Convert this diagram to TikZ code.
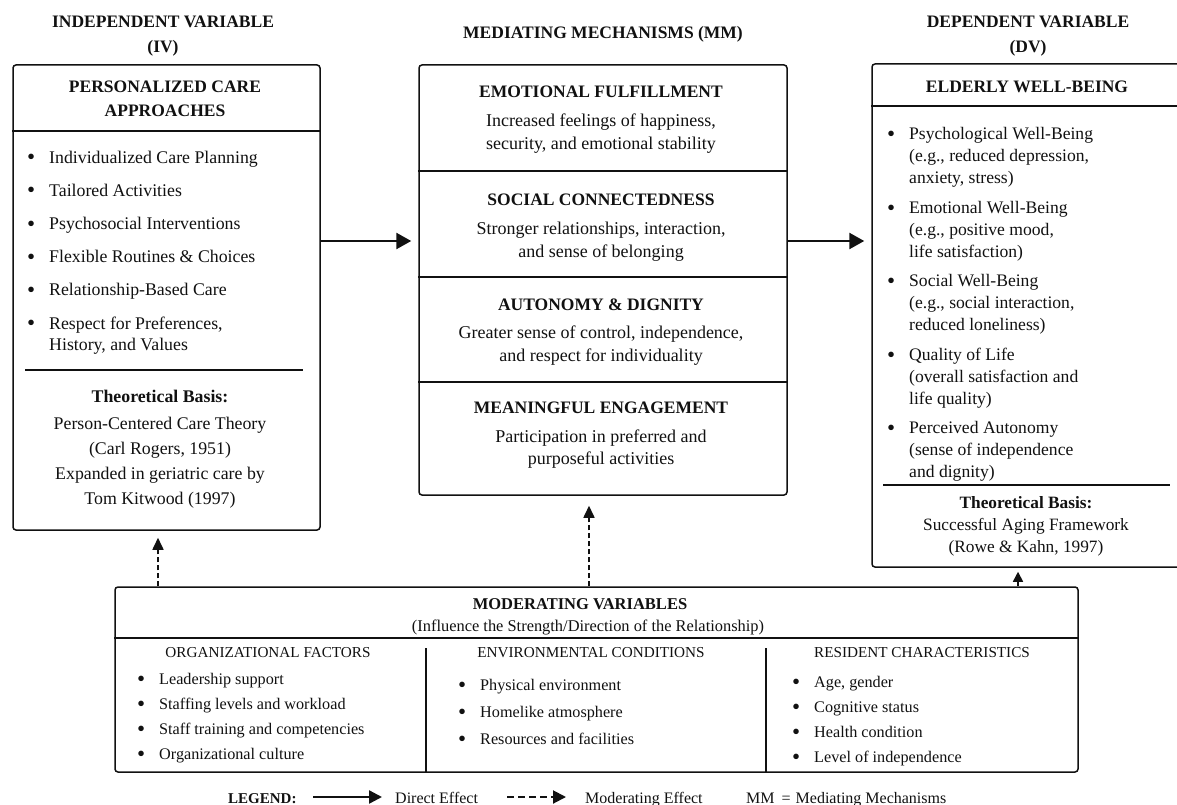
\documentclass[tikz,border=0pt]{standalone}
\usepackage{fontspec}
\setmainfont{Liberation Serif}
\usetikzlibrary{arrows.meta}
\definecolor{ink}{HTML}{111111}
\newcommand\bul[1][22pt]{\llap{\makebox[#1][l]{\raisebox{-1.6pt}{\fontsize{23}{0}\selectfont\textbullet}}}}
\begin{document}
\begin{tikzpicture}[x=1pt,y=-1pt,
  box/.style={draw=ink, line width=1.5pt, rounded corners=3pt, inner sep=0pt},
  sepline/.style={draw=ink, line width=1.3pt},
  ttl/.style={inner sep=0pt, anchor=north, align=center, text=ink, font=\bfseries\fontsize{17.5}{25}\selectfont},
  hd/.style={inner sep=0pt, anchor=north, align=center, text=ink, font=\bfseries\fontsize{17.5}{24}\selectfont},
  lst/.style={inner sep=0pt, anchor=north west, align=left, text=ink},
  ctr/.style={inner sep=0pt, anchor=north, align=center, text=ink},
  direct/.style={draw=ink, line width=2.6pt, -{Triangle[length=15pt,width=16pt]}},
  modarr/.style={draw=ink, line width=1.6pt, dash pattern=on 5pt off 3pt, -{Triangle[length=12pt,width=11pt]}},
  upsolid/.style={draw=ink, line width=1.6pt, -{Triangle[length=10pt,width=10pt]}},
  legsolid/.style={draw=ink, line width=2.4pt, -{Triangle[length=13pt,width=13pt]}},
  legdash/.style={draw=ink, line width=2pt, dash pattern=on 7pt off 4pt, -{Triangle[length=13pt,width=13pt]}},
  leg/.style={inner sep=0pt, anchor=base west, text=ink, font=\fontsize{16}{18}\selectfont}
]
\useasboundingbox (0,0) rectangle (1177,805);
\fill[white] (0,0) rectangle (1177,805);
\clip (0,0) rectangle (1177,805);

% ---- column titles
\node[ttl] (ivt) at (163,16) {INDEPENDENT VARIABLE\\(IV)};
\node[ttl] (mmt) at (603,26.5) {MEDIATING MECHANISMS (MM)};
\node[ttl] (dvt) at (1028,16) {DEPENDENT VARIABLE\\(DV)};

% ---- boxes
\node[box, minimum width=307pt, minimum height=465pt] (iv) at (166.5,297.5) {};
\node[box, minimum width=368pt, minimum height=430pt] (mm) at (603,280) {};
\node[box, minimum width=310pt, minimum height=503pt] (dv) at (1027,315.5) {};
\node[box, minimum width=963pt, minimum height=185pt] (mod) at (596.5,679.5) {};

% ---- inner separators
\draw[sepline] (iv.west |- 0,131) -- (iv.east |- 0,131);
\draw[sepline] (25,370) -- (303,370);
\foreach \yy in {171,277,382} \draw[sepline] (mm.west |- 0,\yy) -- (mm.east |- 0,\yy);
\draw[sepline] (dv.west |- 0,106) -- (dv.east |- 0,106);
\draw[sepline] (883,485) -- (1170,485);
\draw[sepline] (mod.west |- 0,638) -- (mod.east |- 0,638);
\draw[sepline] (426,648) -- (mod.south -| 426,0);
\draw[sepline] (766,648) -- (mod.south -| 766,0);

% ---- IV box content
\node[hd] (ivh) at (165,81) {PERSONALIZED CARE\\APPROACHES};
\node[lst, font=\fontsize{17.8}{21}\selectfont] (ivl) at (49,150.5)
 {\bul Individualized Care Planning\\[12.2pt]\bul Tailored Activities\\[12.2pt]\bul Psychosocial Interventions\\[12.2pt]\bul Flexible Routines \& Choices\\[12.2pt]\bul Relationship-Based Care\\[12.2pt]\bul Respect for Preferences,\\History, and Values};
\node[ctr, font=\fontsize{17.8}{25}\selectfont] (ivb) at (160,390)
 {\textbf{Theoretical Basis:}\\[2pt]Person-Centered Care Theory\\(Carl Rogers, 1951)\\Expanded in geriatric care by\\Tom Kitwood (1997)};

% ---- MM box content
\node[ctr, font=\fontsize{18}{23}\selectfont] (m1) at (601,86)
 {{\fontsize{17.5}{23}\selectfont\bfseries EMOTIONAL FULFILLMENT}\\[6pt]Increased feelings of happiness,\\security, and emotional stability};
\node[ctr, font=\fontsize{18}{23}\selectfont] (m2) at (601,194)
 {{\fontsize{17.5}{23}\selectfont\bfseries SOCIAL CONNECTEDNESS}\\[6pt]Stronger relationships, interaction,\\and sense of belonging};
\node[ctr, font=\fontsize{18}{23}\selectfont] (m3) at (601,299)
 {{\fontsize{17.5}{23}\selectfont\bfseries AUTONOMY \& DIGNITY}\\[5pt]Greater sense of control, independence,\\and respect for individuality};
\node[ctr, font=\fontsize{18}{22.5}\selectfont] (m4) at (601,402)
 {{\fontsize{17.5}{23}\selectfont\bfseries MEANINGFUL ENGAGEMENT}\\[6pt]Participation in preferred and\\purposeful activities};

% ---- DV box content
\node[hd] (dvh) at (1027,81) {ELDERLY WELL-BEING};
\node[lst, font=\fontsize{17.6}{22}\selectfont] (dvl) at (909,127.5)
 {\bul Psychological Well-Being\\(e.g., reduced depression,\\anxiety, stress)\\[7.5pt]%
  \bul Emotional Well-Being\\(e.g., positive mood,\\life satisfaction)\\[7.5pt]%
  \bul Social Well-Being\\(e.g., social interaction,\\reduced loneliness)\\[7.5pt]%
  \bul Quality of Life\\(overall satisfaction and\\life quality)\\[7.5pt]%
  \bul Perceived Autonomy\\(sense of independence\\and dignity)};
\node[ctr, font=\fontsize{17.3}{22}\selectfont] (dvb) at (1026,496)
 {\textbf{Theoretical Basis:}\\Successful Aging Framework\\(Rowe \& Kahn, 1997)};

% ---- moderating box content
\node[ctr, font=\bfseries\fontsize{16.5}{20}\selectfont] (modt) at (580,598) {MODERATING VARIABLES};
\node[ctr, font=\fontsize{16.4}{20}\selectfont] (mods) at (588,619.5) {(Influence the Strength/Direction of the Relationship)};
\node[ctr, font=\fontsize{15.2}{18}\selectfont] (c1h) at (268,647.5) {ORGANIZATIONAL FACTORS};
\node[ctr, font=\fontsize{15.2}{18}\selectfont] (c2h) at (591,647.5) {ENVIRONMENTAL CONDITIONS};
\node[ctr, font=\fontsize{15.2}{18}\selectfont] (c3h) at (922,647.5) {RESIDENT CHARACTERISTICS};
\node[lst, font=\fontsize{16.2}{25}\selectfont] (c1) at (159,673)
 {\bul Leadership support\\\bul Staffing levels and workload\\\bul Staff training and competencies\\\bul Organizational culture};
\node[lst, font=\fontsize{16.2}{27}\selectfont] (c2) at (480,679)
 {\bul Physical environment\\\bul Homelike atmosphere\\\bul Resources and facilities};
\node[lst, font=\fontsize{16.2}{25}\selectfont] (c3) at (814,676)
 {\bul Age, gender\\\bul Cognitive status\\\bul Health condition\\\bul Level of independence};

% ---- connectors
\coordinate (aY) at (0,241);
\draw[direct, shorten >=7pt] (iv.east |- aY) -- (mm.west |- aY);
\draw[direct, shorten >=7pt] (mm.east |- aY) -- (dv.west |- aY);
\draw[modarr, shorten >=7pt] (mod.north -| 158,0) -- (iv.south -| 158,0);
\draw[modarr, shorten >=10pt] (mod.north -| 589,0) -- (mm.south -| 589,0);
\draw[upsolid, shorten >=4pt] (mod.north -| 1018,0) -- (dv.south -| 1018,0);

% ---- legend
\node[leg, font=\bfseries\fontsize{15}{18}\selectfont] (lg) at (228,803) {LEGEND:};
\coordinate (ls1) at (313,797);
\coordinate (ls2) at (382,797);
\draw[legsolid] (ls1) -- (ls2);
\node[leg] (lgd) at (395,803) {Direct Effect};
\coordinate (ld1) at (507,797);
\coordinate (ld2) at (566,797);
\draw[legdash] (ld1) -- (ld2);
\node[leg] (lgm) at (585,803) {Moderating Effect};
\node[leg] (lgmm) at (746,803) {MM\hspace{7pt}=\hspace{5pt}Mediating Mechanisms};
\end{tikzpicture}
\end{document}
